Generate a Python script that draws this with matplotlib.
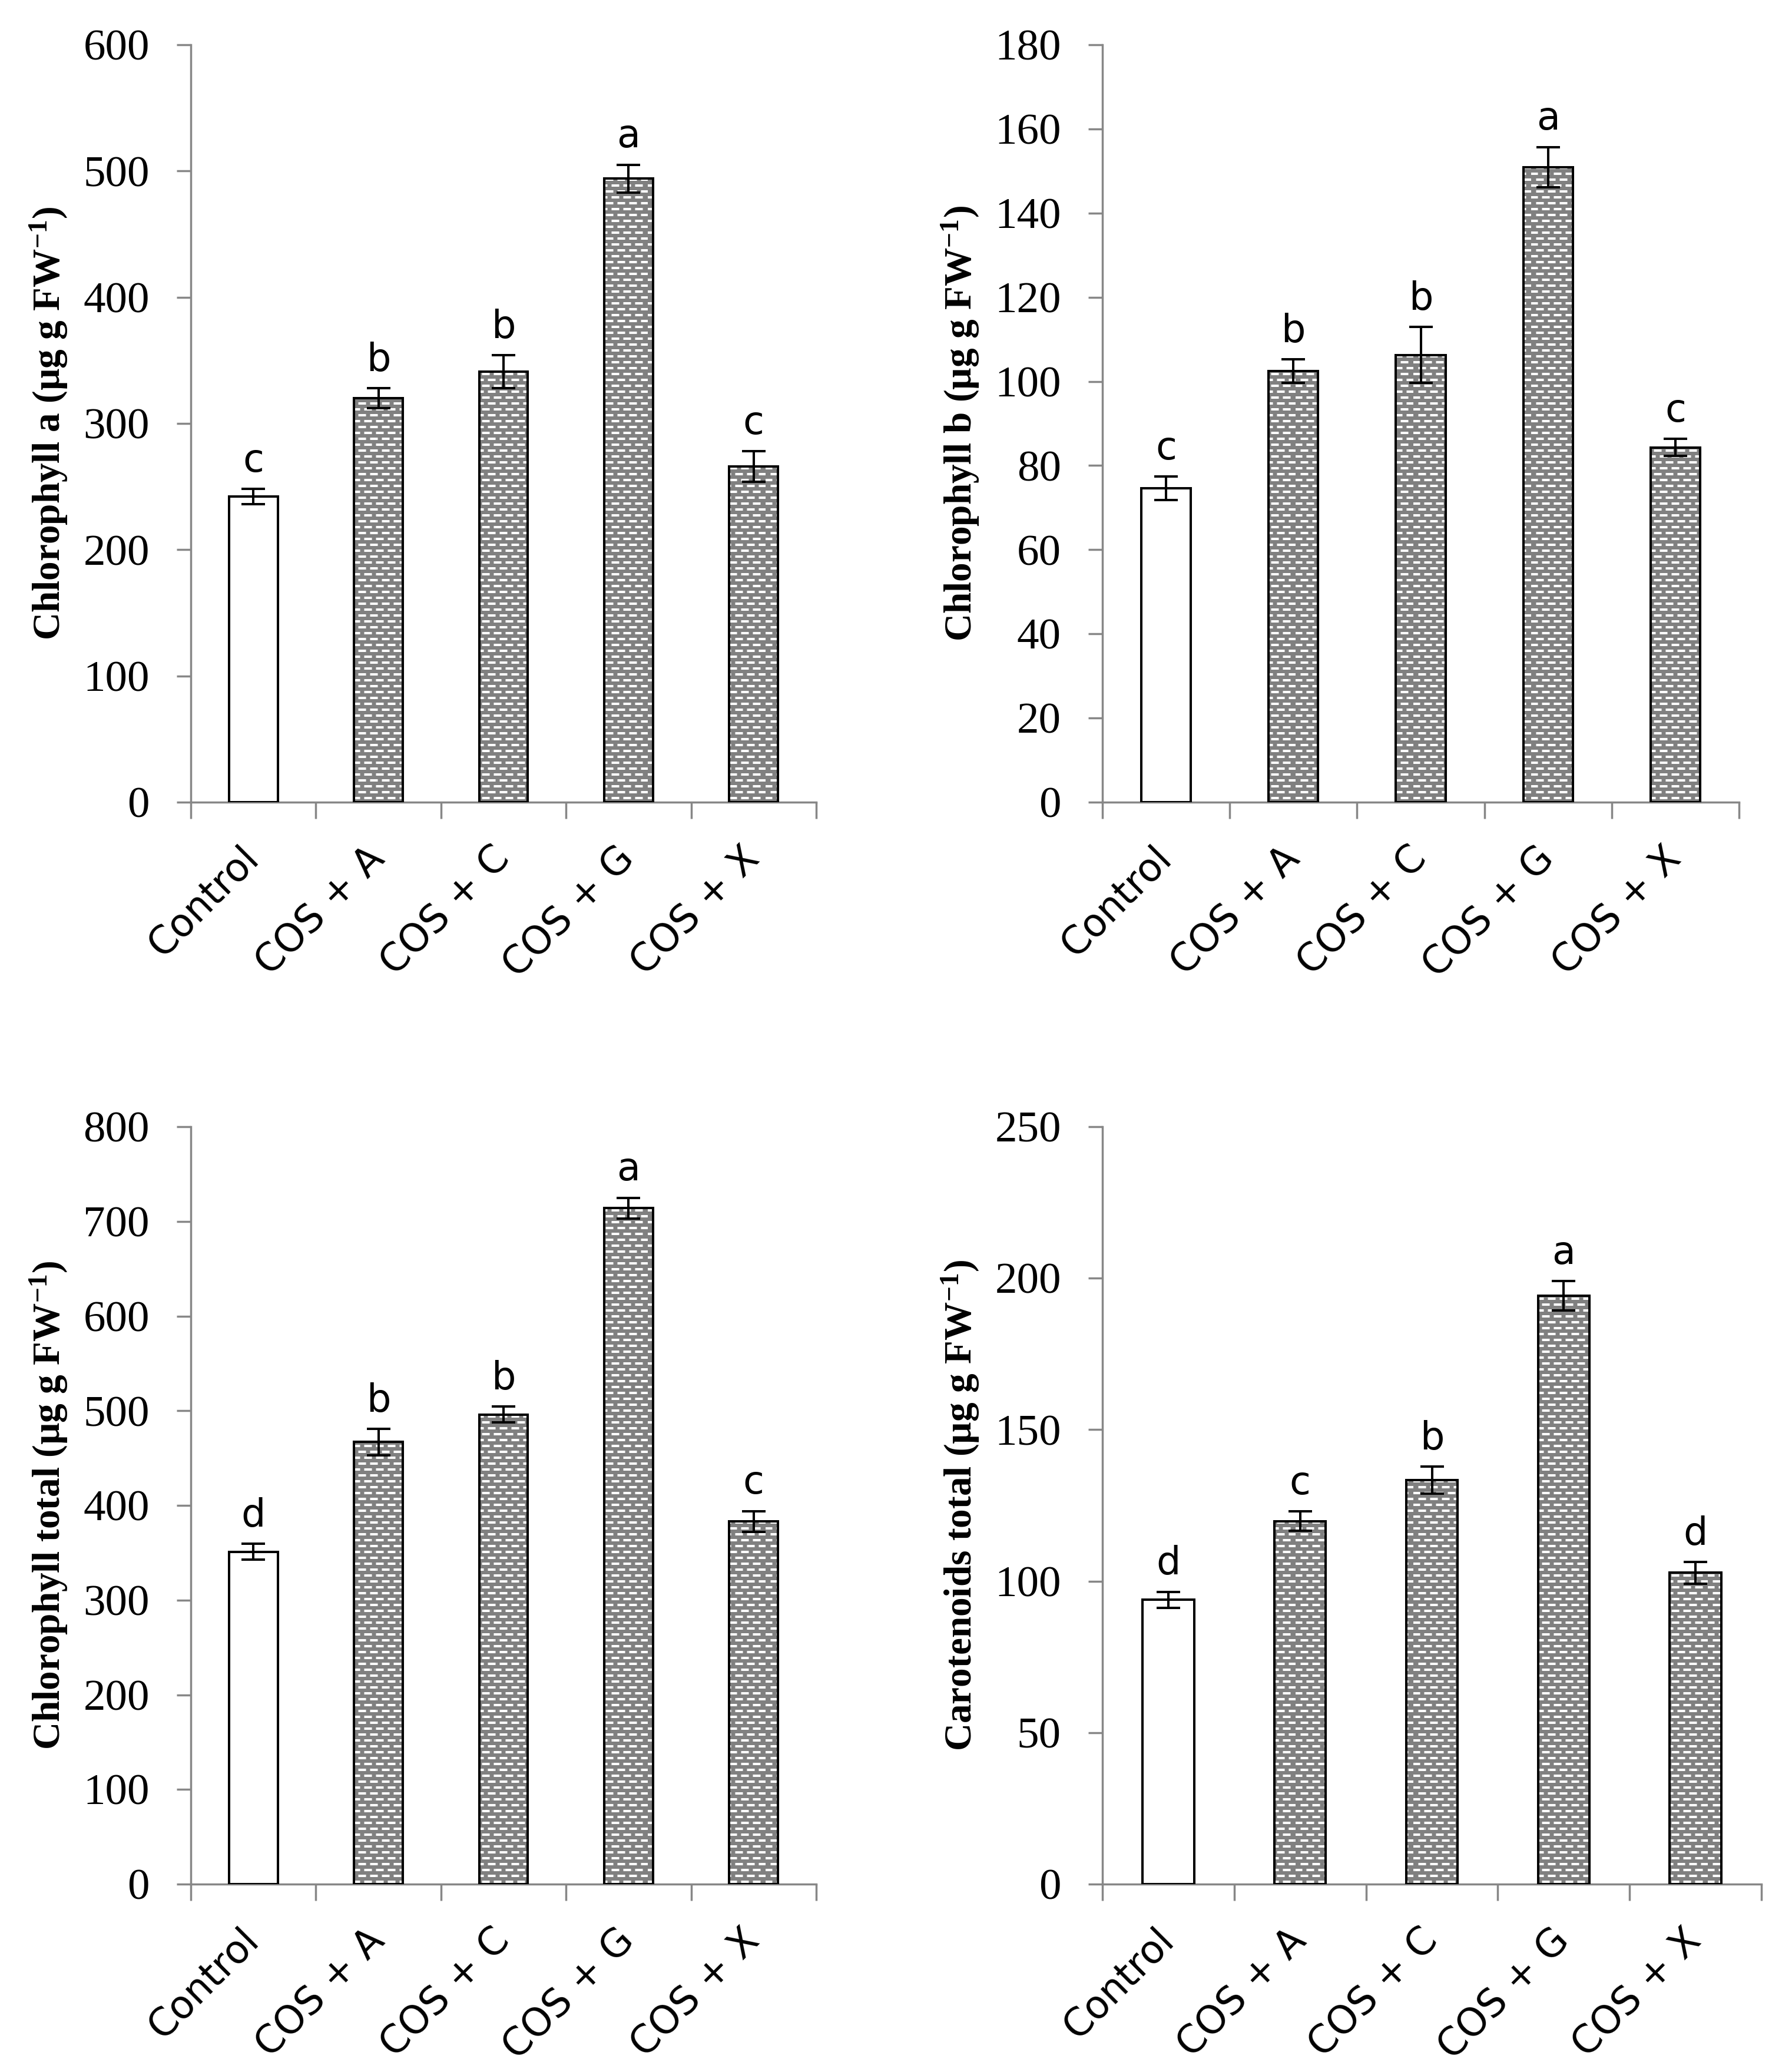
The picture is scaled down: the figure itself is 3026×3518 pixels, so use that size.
import numpy as np
import matplotlib
matplotlib.use("Agg")
import matplotlib.pyplot as plt
import matplotlib.hatch as mhatch
from matplotlib.path import Path

# ---------------- data ----------------
categories = ["Control", "COS + A", "COS + C", "COS + G", "COS + X"]

chl_a = [242, 320, 341, 494, 266]
chl_a_err = [6, 8, 13, 11, 12]
chl_a_letters = ["c", "b", "b", "a", "c"]

chl_b = [74.6, 102.5, 106.3, 150.9, 84.3]
chl_b_err = [2.8, 2.8, 6.7, 4.8, 2.0]
chl_b_letters = ["c", "b", "b", "a", "c"]

chl_t = [351, 467, 496, 714, 383]
chl_t_err = [8.5, 14, 8.5, 11, 11]
chl_t_letters = ["d", "b", "b", "a", "c"]

car_t = [93.8, 119.8, 133.3, 194.2, 102.8]
car_t_err = [2.7, 3.2, 4.5, 4.8, 3.6]
car_t_letters = ["d", "c", "b", "a", "d"]

# ---------------- custom brick-dash hatch ----------------
class BrickDashes(mhatch.HatchPatternBase):
    rows = 10
    per_row = 5
    dash = 0.09

    def __init__(self, hatch, density):
        on = hatch.count('*') > 0
        self.num_vertices = self.rows * self.per_row * 2 if on else 0

    def set_vertices_and_codes(self, vertices, codes):
        k = 0
        period = 1.0 / self.per_row
        for r in range(self.rows):
            yv = (r + 0.5) / self.rows
            off = 0.0 if r % 2 == 0 else period / 2
            for c in range(self.per_row):
                x0 = off + c * period + 0.005
                vertices[k] = (x0, yv)
                vertices[k + 1] = (x0 + self.dash, yv)
                codes[k] = Path.MOVETO
                codes[k + 1] = Path.LINETO
                k += 2

mhatch._hatch_types = [c for c in mhatch._hatch_types if c is not mhatch.Stars] + [BrickDashes]

plt.rcParams['hatch.linewidth'] = 2.9
plt.rcParams['mathtext.fontset'] = 'custom'
plt.rcParams['mathtext.rm'] = 'Liberation Serif:bold'
plt.rcParams['mathtext.bf'] = 'Liberation Serif:bold'
plt.rcParams['mathtext.it'] = 'Liberation Serif:bold:italic'
plt.rcParams['mathtext.default'] = 'rm'

AXIS_GRAY = '#878787'
BAR_GRAY = '#808080'

W, H = 3026, 3518
fig = plt.figure(figsize=(W / 100, H / 100), dpi=100)


def make_axes(left_px, top_px, width_px, height_px):
    return fig.add_axes([left_px / W, 1 - (top_px + height_px) / H, width_px / W, height_px / H])


def panel(ax, width_px, values, errors, letters, ymax, ystep, ylabel):
    x = np.arange(len(categories))
    faces = ['white'] + [BAR_GRAY] * (len(categories) - 1)
    fills = ax.bar(x, values, width=0.39, color=faces, edgecolor='white', linewidth=0, zorder=2)
    for p in list(fills)[1:]:
        p.set_hatch('*')
    ax.bar(x, values, width=0.39, fill=False, edgecolor='black', linewidth=2.9, zorder=3)
    ax.errorbar(x, values, yerr=errors, fmt='none', ecolor='black', elinewidth=2.9,
                capsize=14.4, capthick=2.9, zorder=4)
    for xi, v, e, lab in zip(x, values, errors, letters):
        ax.annotate(lab, (xi, v + e), xytext=(0, 21), textcoords='offset points',
                    ha='center', va='baseline', fontsize=47, family='DejaVu Sans')

    ax.set_xlim(-0.5, len(categories) - 0.5)
    ax.set_ylim(0, ymax)
    ax.set_yticks(np.arange(0, ymax + ystep / 2, ystep))
    ax.set_xticks(x)
    ax.set_xticklabels(categories, rotation=45, ha='right', va='center',
                       rotation_mode='anchor', fontsize=47, family='DejaVu Sans')
    ax.set_xticks(np.arange(-0.5, len(categories)), minor=True)
    ax.tick_params(axis='x', which='major', length=0, pad=62)
    ax.tick_params(axis='x', which='minor', length=20, width=2.5, color=AXIS_GRAY, direction='out')
    ax.tick_params(axis='y', which='major', length=17.5, width=2.5, color=AXIS_GRAY,
                   direction='out', pad=33)
    for t in ax.get_yticklabels():
        t.set_fontfamily('Liberation Serif')
        t.set_fontsize(54)
    for s in ('top', 'right'):
        ax.spines[s].set_visible(False)
    for s in ('left', 'bottom'):
        ax.spines[s].set_color(AXIS_GRAY)
        ax.spines[s].set_linewidth(2.5)
    ax.set_ylabel(ylabel, fontsize=47, fontweight='bold', family='Liberation Serif')
    ax.yaxis.set_label_coords(-206 / width_px, 0.5)


ax1 = make_axes(324, 76, 1062, 1286)
panel(ax1, 1062, chl_a, chl_a_err, chl_a_letters, 600, 100,
      'Chlorophyll a (µg g FW$^{-1}$)')
ax2 = make_axes(1872, 76, 1081, 1286)
panel(ax2, 1081, chl_b, chl_b_err, chl_b_letters, 180, 20,
      'Chlorophyll b (µg g FW$^{-1}$)')
ax3 = make_axes(324, 1913, 1062, 1286)
panel(ax3, 1062, chl_t, chl_t_err, chl_t_letters, 800, 100,
      'Chlorophyll total (µg g FW$^{-1}$)')
ax4 = make_axes(1872, 1913, 1119, 1286)
panel(ax4, 1119, car_t, car_t_err, car_t_letters, 250, 50,
      'Carotenoids total (µg g FW$^{-1}$)')

fig.savefig('out.png', dpi=100, facecolor='white')
